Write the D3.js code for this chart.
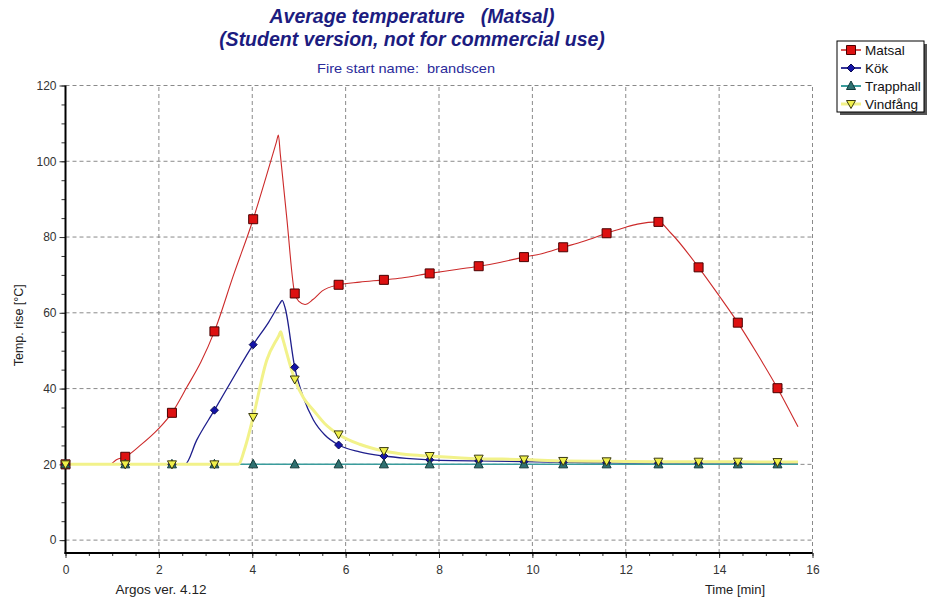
<!DOCTYPE html>
<html>
<head>
<meta charset="utf-8">
<script src="https://cdn.jsdelivr.net/npm/d3@7/dist/d3.min.js"></script>
<style>
  html, body { margin: 0; padding: 0; background: #fff; }
  svg { display: block; font-family: "Liberation Sans", Arial, sans-serif; }
</style>
</head>
<body>
<svg id="chart" width="932" height="602"></svg>
<script>
// Sample times at which the markers are plotted (minutes)
const markerTimes = [0, 1.28, 2.28, 3.19, 4.02, 4.91, 5.85, 6.82, 7.80, 8.85, 9.82, 10.66, 11.59, 12.70, 13.56, 14.40, 15.25];

// Temperature rise curves, [time (min), temp (°C)]
const matsal = [[0,20],[0.95,20],[1.1,21.3],[1.28,22.0],[1.6,25.0],[2.0,29.5],[2.28,33.6],[2.6,40.4],[2.9,47],[3.19,55.1],
  [3.6,70],[4.02,84.7],[4.3,96],[4.52,105.2],[4.56,106.9],[4.60,102.0],[4.74,85],[4.91,65.1],[5.0,63],[5.13,62.2],[5.3,63.5],
  [5.5,65.8],[5.85,67.4],[6.3,68.1],[6.82,68.7],[7.2,69.2],[7.80,70.4],[8.3,71.3],[8.85,72.3],[9.3,73.3],[9.82,74.7],
  [10.2,75.6],[10.66,77.3],[11.1,78.9],[11.59,81.0],[12.0,82.6],[12.25,83.4],[12.70,84.0],[12.97,81],[13.56,72.0],
  [14.0,64.5],[14.40,57.4],[14.8,49.5],[15.25,40.1],[15.69,29.9]];
const kok = [[0,20],[1.28,20],[2.28,20],[2.56,20],[2.81,26.4],[3.19,34.3],[3.6,43],[4.02,51.6],[4.35,57.5],[4.60,62.6],
  [4.64,63.3],[4.71,61],[4.91,45.6],[5.1,37.5],[5.31,31.7],[5.55,27.8],[5.85,25.1],[6.3,23.3],[6.82,22.2],[7.3,21.6],
  [7.80,21.2],[8.3,21.0],[8.85,20.9],[9.82,20.7],[10.66,20.5],[11.59,20.4],[12.70,20.3],[13.56,20.3],[14.40,20.3],
  [15.25,20.2],[15.69,20.2]];
const trapphall = [[0,20],[1.28,20],[2.28,20],[3.19,20],[4.02,20],[4.91,20],[5.85,20],[6.82,20],[7.80,20],[8.85,20],[9.82,20],
  [10.66,20],[11.59,20],[12.70,20],[13.56,20],[14.40,20],[15.25,20],[15.69,20]];
const vindfang = [[0,20],[1.28,20],[2.28,20],[3.19,20],[3.70,20],[3.85,24.6],[4.02,32.5],[4.31,47.5],[4.57,54.0],[4.61,55.0],
  [4.65,53.3],[4.91,42.4],[5.1,37.5],[5.31,34.3],[5.55,30.8],[5.85,27.9],[6.3,25.3],[6.82,23.5],[7.3,22.6],[7.80,22.2],
  [8.85,21.5],[9.82,21.3],[10.66,20.9],[11.59,20.8],[12.70,20.7],[13.56,20.7],[14.40,20.7],[15.25,20.6],[15.69,20.6]];

const seriesNames = ["Matsal", "Kök", "Trapphall", "Vindfång"];
const xTicks = [0, 2, 4, 6, 8, 10, 12, 14, 16];
const yTicks = [0, 20, 40, 60, 80, 100, 120];

const svg = d3.select("#chart");
const W = 932, H = 602;
const margin = { top: 85.5, right: 119.5, bottom: 49, left: 65.5 };
const x = d3.scaleLinear().domain([0, 16]).range([margin.left, W - margin.right]);
const y = d3.scaleLinear().domain([-3.4, 120]).range([H - margin.bottom, margin.top]);
const x0 = x.range()[0], x1 = x.range()[1], y0 = y.range()[0], y1 = y.range()[1];

// Titles
const navy = "#1c1c80";
svg.append("text").attr("x", 412).attr("y", 23).attr("text-anchor", "middle")
  .attr("font-size", 19.5).attr("font-weight", "bold").attr("font-style", "italic").attr("fill", navy)
  .attr("xml:space", "preserve").text("Average temperature   (Matsal)");
svg.append("text").attr("x", 412).attr("y", 46).attr("text-anchor", "middle")
  .attr("font-size", 19.5).attr("font-weight", "bold").attr("font-style", "italic").attr("fill", navy)
  .text("(Student version, not for commercial use)");
svg.append("text").attr("x", 406).attr("y", 73).attr("text-anchor", "middle")
  .attr("font-size", 13).attr("fill", "#2a2a9a").attr("xml:space", "preserve")
  .attr("textLength", 178).attr("lengthAdjust", "spacingAndGlyphs")
  .text("Fire start name:  brandscen");

// Grid lines
const grid = svg.append("g").attr("stroke", "#8a8a8a").attr("stroke-dasharray", "4,3").attr("stroke-width", 1);
grid.selectAll("line.gx").data(xTicks.filter(d => d > 0)).join("line")
  .attr("x1", d => x(d)).attr("x2", d => x(d)).attr("y1", y0).attr("y2", y1);
grid.selectAll("line.gy").data(yTicks).join("line")
  .attr("x1", x0).attr("x2", x1).attr("y1", d => y(d)).attr("y2", d => y(d));

// Axes with major and minor ticks
const tickStyle = g => {
  g.select(".domain").remove();
  g.selectAll("text").attr("font-size", 12).attr("fill", "#333").attr("font-family", "Liberation Sans, Arial, sans-serif");
  g.selectAll("line").attr("stroke", "#333");
};
svg.append("g").attr("transform", `translate(${x0},0)`)
  .call(d3.axisLeft(y).tickValues(d3.range(0, 121, 5)).tickSize(4).tickFormat(""))
  .call(tickStyle);
svg.append("g").attr("transform", `translate(${x0},0)`)
  .call(d3.axisLeft(y).tickValues(yTicks).tickSize(6).tickPadding(3).tickFormat(d3.format("d")))
  .call(tickStyle);
svg.append("g").attr("transform", `translate(0,${y0})`)
  .call(d3.axisBottom(x).tickValues(d3.range(0, 16.01, 0.5)).tickSize(3).tickFormat(""))
  .call(tickStyle);
svg.append("g").attr("transform", `translate(0,${y0})`)
  .call(d3.axisBottom(x).tickValues(xTicks).tickSize(5).tickPadding(7).tickFormat(d3.format("d")))
  .call(tickStyle);

// Frame: solid left/bottom axes
svg.append("line").attr("x1", x0).attr("x2", x0).attr("y1", y0 + 1).attr("y2", y1)
  .attr("stroke", "#000").attr("stroke-width", 2);
svg.append("line").attr("x1", x0 - 1).attr("x2", x1).attr("y1", y0).attr("y2", y0)
  .attr("stroke", "#000").attr("stroke-width", 2);

// Axis titles
svg.append("text").attr("transform", `translate(23,${(y0 + y1) / 2 + 6}) rotate(-90)`)
  .attr("text-anchor", "middle").attr("font-size", 12.5).attr("fill", "#222").text("Temp. rise [°C]");
svg.append("text").attr("x", 735).attr("y", 594).attr("text-anchor", "middle")
  .attr("font-size", 13).attr("fill", "#222").text("Time [min]");
svg.append("text").attr("x", 161).attr("y", 594).attr("text-anchor", "middle")
  .attr("font-size", 13.5).attr("fill", "#222").text("Argos ver. 4.12");

// Series definitions
const series = [
  { name: seriesNames[0], data: matsal, line: "#cc2a2a", width: 1.1, fill: "#dd1111", stroke: "#4a0000", shape: "square" },
  { name: seriesNames[1], data: kok, line: "#1e1e8c", width: 1.3, fill: "#1414a8", stroke: "#0a0a50", shape: "diamond" },
  { name: seriesNames[2], data: trapphall, line: "#3a9c9c", width: 1.5, fill: "#2e7070", stroke: "#123a3a", shape: "up" },
  { name: seriesNames[3], data: vindfang, line: "#f2f28a", width: 3, fill: "#f0f04a", stroke: "#3a3a10", shape: "down" }
];

const lineGen = d3.line().x(d => x(d[0])).y(d => y(d[1])).curve(d3.curveMonotoneX);
const plot = svg.append("g");
series.forEach(s => {
  plot.append("path").datum(s.data).attr("d", lineGen)
    .attr("fill", "none").attr("stroke", s.line).attr("stroke-width", s.width).attr("stroke-linejoin", "round");
});

function markerPath(shape) {
  if (shape === "square") return "M-4.5,-4.5H4.5V4.5H-4.5Z";
  if (shape === "diamond") return "M0,-4L4,0L0,4L-4,0Z";
  if (shape === "up") return "M0,-5L4.5,3.5H-4.5Z";
  return "M0,4.5L4.5,-3.5H-4.5Z";
}
series.forEach(s => {
  const pts = s.data.filter(d => markerTimes.includes(d[0]));
  plot.selectAll(null).data(pts).join("path")
    .attr("transform", d => `translate(${x(d[0])},${y(d[1])})`)
    .attr("d", markerPath(s.shape))
    .attr("fill", s.fill).attr("stroke", s.stroke).attr("stroke-width", 1);
});

// Legend
const lg = svg.append("g");
lg.append("rect").attr("x", 840).attr("y", 44).attr("width", 87).attr("height", 71).attr("fill", "#555");
lg.append("rect").attr("x", 837).attr("y", 41).attr("width", 87).attr("height", 71)
  .attr("fill", "#fff").attr("stroke", "#000").attr("stroke-width", 1);
series.forEach((s, i) => {
  const cy = 50 + i * 18;
  lg.append("line").attr("x1", 841).attr("x2", 861).attr("y1", cy).attr("y2", cy)
    .attr("stroke", s.line).attr("stroke-width", Math.min(s.width + 0.5, 3));
  lg.append("path").attr("transform", `translate(851,${cy})`).attr("d", markerPath(s.shape))
    .attr("fill", s.fill).attr("stroke", s.stroke).attr("stroke-width", 1);
  lg.append("text").attr("x", 865).attr("y", cy + 5).attr("font-size", 13.5).attr("fill", "#111").text(s.name);
});
</script>
</body>
</html>
